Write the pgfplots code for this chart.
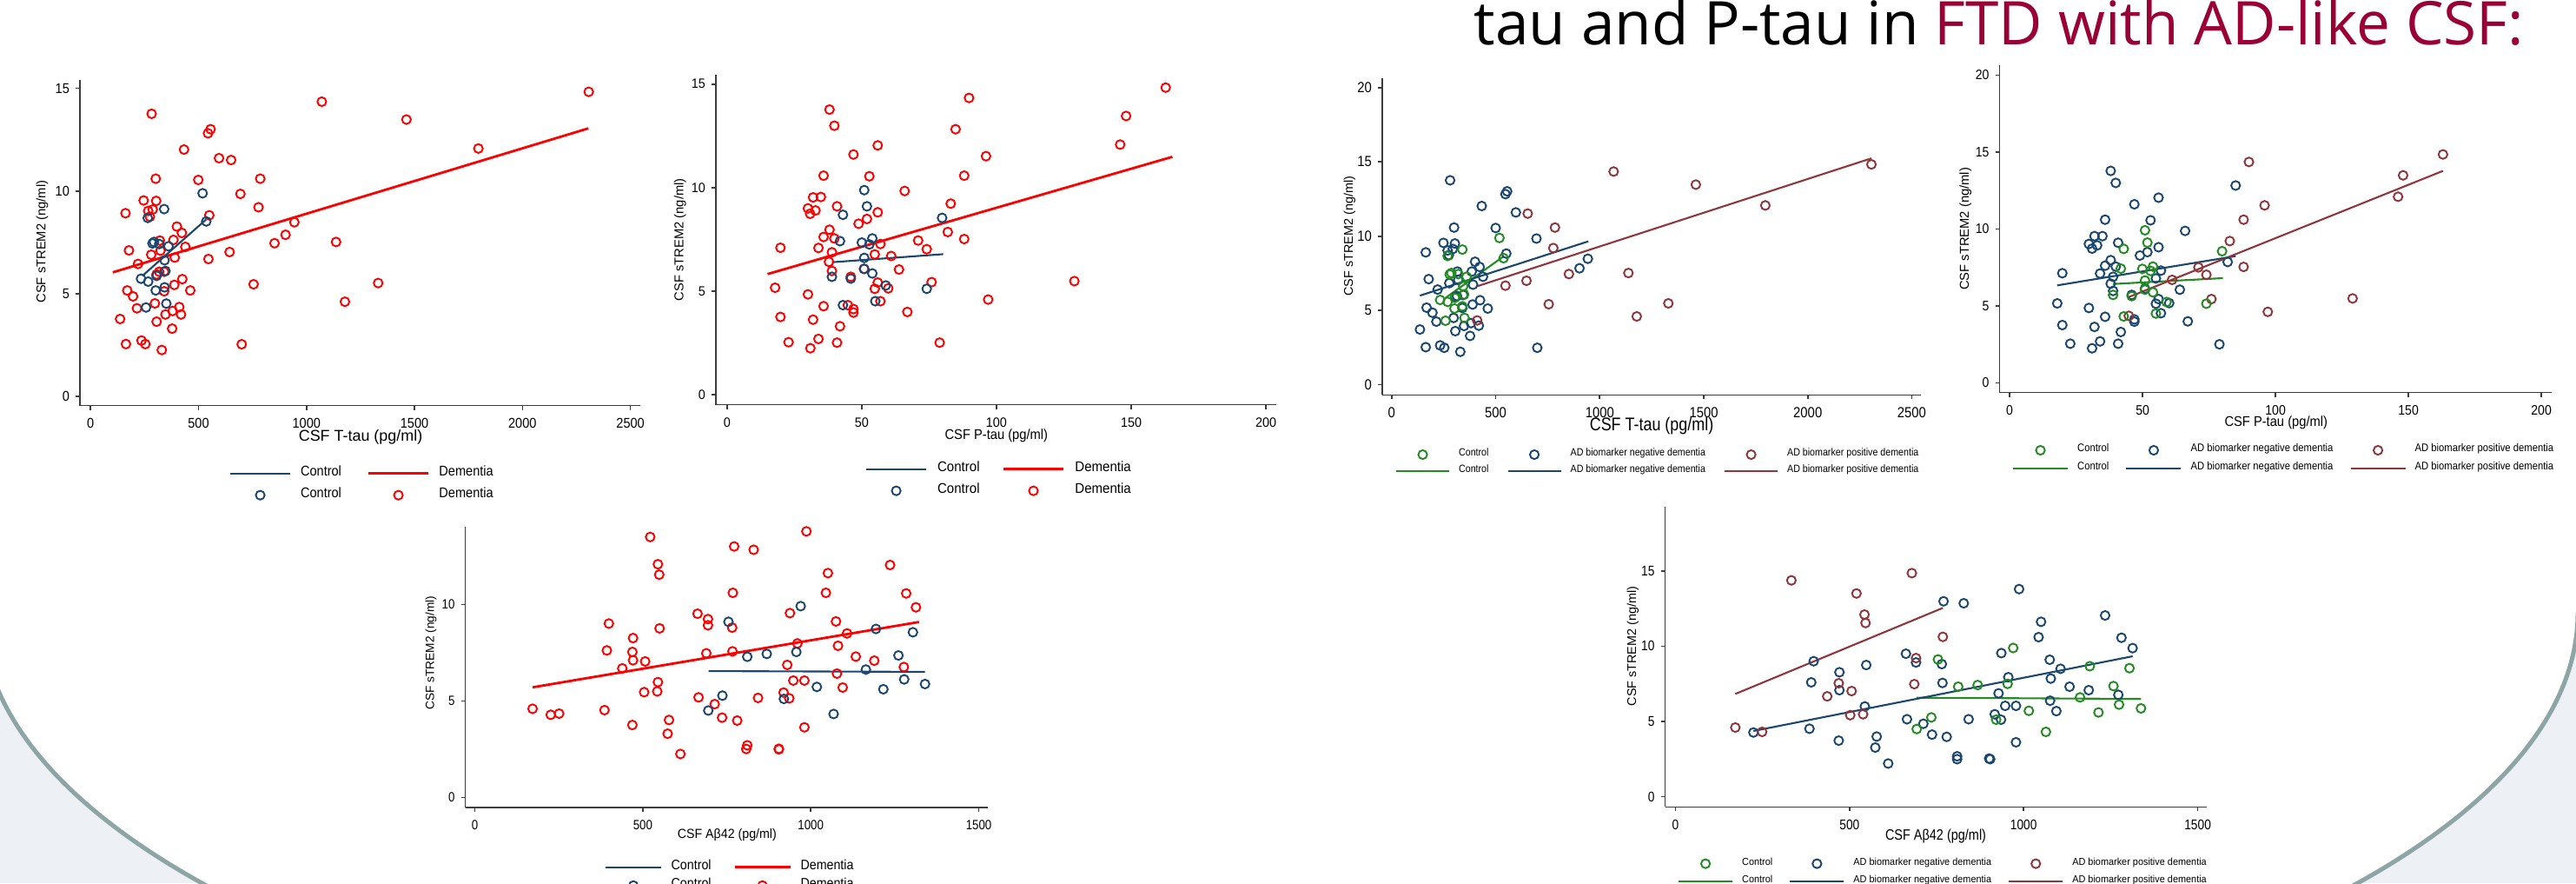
\documentclass[border=0pt]{standalone}
\usepackage{fontspec}
\setmainfont{Liberation Sans}
\newfontfamily\titlefont{Open Sans}
\usepackage{graphicx}
\usepackage{pgfplots}
\pgfplotsset{compat=1.18}

\definecolor{stnavy}{RGB}{26,71,111}
\definecolor{stmaroon}{RGB}{144,53,59}
\definecolor{stgreen}{RGB}{34,139,34}
\definecolor{tint}{RGB}{237,241,246}
\definecolor{arcc}{RGB}{142,165,165}
\definecolor{titlered}{RGB}{155,0,52}
\definecolor{axgray}{RGB}{60,60,60}

\newcommand{\fsz}[1]{\fontsize{#1}{#1}\selectfont}
% legend samples
\newcommand{\legline}[2]{\addlegendimage{legend image code/.code={\draw[line width=0.6pt,#1] (0cm,0cm) -- (#2,0cm);}}}
\newcommand{\legmark}[2]{\addlegendimage{legend image code/.code={\path[draw=none] (0cm,0cm) -- (#2,0cm); \draw[line width=0.55pt,#1] (#2/2,0cm) circle (1.45pt);}}}

\pgfplotsset{
  stata/.style={
    scale only axis, anchor=south west,
    axis lines*=left,
    axis line style={-, draw=axgray, line width=0.45pt},
    tick align=outside,
    major tick length=0.05cm,
    tick style={draw=axgray, line width=0.45pt},
    minor tick num=0,
    /pgf/number format/1000 sep={},
    /pgf/number format/assume math mode=true,
    xticklabel style={anchor=north, inner sep=0pt},
    yticklabel style={anchor=east, inner sep=0pt},
    xticklabel shift=0.09cm,
    yticklabel shift=0.065cm,
    legend cell align=left,
    legend style={draw=none, fill=none, inner sep=0pt, outer sep=0pt,
      nodes={inner sep=0pt, outer sep=0pt}, anchor=north west},
    xlabel style={anchor=center, inner sep=0pt},
    ylabel style={anchor=center, inner sep=0pt},
  },
  dot/.style={only marks, mark=o, mark size=1.45pt, line width=0.55pt, forget plot},
  fit/.style={no markers, line width=0.6pt, forget plot},
}

\begin{document}
\begin{tikzpicture}
\useasboundingbox (0,0) rectangle (29.65,10.16);
\clip (0,0) rectangle (29.65,10.16);
\fill[white] (0,0) rectangle (29.65,10.16);

% slide background
\fill[tint] (0,0) rectangle (29.65,3.11);
\fill[white] (14.73,3.11) ellipse [x radius=14.94, y radius=5.58];
\begin{scope}
\clip (0,0) rectangle (29.65,3.11);
\draw[arcc, line width=0.05cm] (14.73,3.11) ellipse [x radius=14.94, y radius=5.58];
\end{scope}

\node[anchor=base west, inner sep=0pt, font=\titlefont\fontsize{19.7}{23}\selectfont]
  at (16.96,9.645) {tau and P-tau in \textcolor{titlered}{FTD with AD-like CSF:}};

% ---------- panel 1: T-tau ----------
\begin{axis}[stata, at={(0.92cm,5.493cm)}, width=6.448cm, height=3.75cm,
  xmin=-49, xmax=2545, ymin=-0.45, ymax=15.42,
  xtick={0,500,...,2500}, ytick={0,5,10,15},
  tick label style={font=\fsz{4.6}, xscale=0.9},
  xlabel={CSF T-tau (pg/ml)},
  xlabel style={at={(axis description cs:0.501,-0.0968)}, font=\fsz{5.1}},
  ylabel={CSF sTREM2 (ng/ml)},
  ylabel style={at={(axis description cs:-0.0675,0.503)}, font=\fsz{4.2}},
  legend columns=2,
  legend style={at={(axis description cs:0.2667,-0.1851)}, font=\fsz{4.6}, row sep=0.081cm,
    /tikz/every odd column/.append style={column sep=0.11cm},
    /tikz/every even column/.append style={column sep=0.297cm}},
]
\addplot[dot, red] coordinates {(2307,14.83) (1071,14.35) (283,13.76) (1463,13.48) (556,13.01) (544,12.81) (433,12.02) (1796,12.07) (595,11.60) (651,11.51) (302,10.60) (499,10.54) (786,10.60) (694,9.86) (246,9.54) (304,9.52) (778,9.21) (162,8.92) (267,9.03) (288,9.10) (275,8.75) (550,8.82) (944,8.48) (400,8.27) (423,7.96) (903,7.87) (1137,7.52) (852,7.46) (321,7.59) (384,7.62) (178,7.11) (324,7.10) (439,7.28) (281,6.90) (644,7.03) (390,6.76) (546,6.69) (220,6.45) (318,6.07) (341,6.07) (306,5.94) (425,5.71) (388,5.43) (755,5.46) (1332,5.52) (170,5.16) (341,5.12) (462,5.16) (197,4.87) (1178,4.61) (298,4.53) (215,4.29) (411,4.35) (347,3.99) (419,3.99) (380,4.16) (137,3.77) (306,3.64) (378,3.30) (236,2.72) (164,2.55) (254,2.55) (700,2.54) (330,2.26)};
\addplot[dot, stnavy] coordinates {(519,9.89) (341,9.12) (265,8.69) (536,8.52) (287,7.45) (294,7.52) (318,7.42) (361,7.31) (343,6.63) (234,5.73) (267,5.59) (347,6.11) (306,5.87) (343,5.31) (302,5.16) (351,4.52) (257,4.33)};
\addplot[fit, red, line width=0.8pt] coordinates {(103,6.04) (2305,13.05)};
\addplot[fit, stnavy] coordinates {(240,5.87) (536,8.62)};
\legline{stnavy}{0.69cm} \addlegendentry{\scalebox{0.9}[1]{Control}}
\legline{red,line width=0.8pt}{0.69cm} \addlegendentry{\scalebox{0.9}[1]{Dementia}}
\legmark{stnavy}{0.69cm} \addlegendentry{\scalebox{0.9}[1]{Control}}
\legmark{red}{0.69cm} \addlegendentry{\scalebox{0.9}[1]{Dementia}}
\end{axis}

% ---------- panel 2: P-tau ----------
\begin{axis}[stata, at={(8.239cm,5.503cm)}, width=6.446cm, height=3.797cm,
  xmin=-4.2, xmax=203.7, ymin=-0.48, ymax=15.45,
  xtick={0,50,...,200}, ytick={0,5,10,15},
  tick label style={font=\fsz{4.4}, xscale=0.93},
  xlabel={\scalebox{0.91}[1]{CSF P-tau (pg/ml)}},
  xlabel style={at={(axis description cs:0.501,-0.093)}, font=\fsz{4.6}},
  ylabel={CSF sTREM2 (ng/ml)},
  ylabel style={at={(axis description cs:-0.0639,0.5)}, font=\fsz{4.2}},
  legend columns=2,
  legend style={at={(axis description cs:0.267,-0.1722)}, font=\fsz{4.6}, row sep=0.081cm,
    /tikz/every odd column/.append style={column sep=0.12cm},
    /tikz/every even column/.append style={column sep=0.26cm}},
]
\addplot[dot, red] coordinates {(162.8,14.83) (89.8,14.33) (38.0,13.77) (148.1,13.46) (39.8,12.99) (84.8,12.82) (55.9,12.04) (145.9,12.08) (46.9,11.60) (96.1,11.52) (35.8,10.58) (52.8,10.55) (88.0,10.58) (65.9,9.84) (31.9,9.53) (34.8,9.55) (83.0,9.23) (30.0,9.00) (32.8,8.90) (30.8,8.74) (40.8,9.10) (55.9,8.81) (48.8,8.26) (51.9,8.49) (38.0,7.97) (81.9,7.86) (35.8,7.62) (39.8,7.55) (88.0,7.52) (70.9,7.45) (56.9,7.28) (19.8,7.10) (33.9,7.09) (74.1,7.03) (38.9,6.88) (54.8,6.78) (60.9,6.70) (37.8,6.42) (38.9,5.98) (50.8,6.08) (63.8,6.05) (45.9,5.70) (17.8,5.17) (75.9,5.44) (55.9,5.42) (54.8,5.12) (59.8,5.14) (128.9,5.49) (30.0,4.85) (96.9,4.60) (56.9,4.52) (35.8,4.28) (44.8,4.33) (46.9,4.14) (46.9,3.97) (66.9,4.00) (19.8,3.76) (31.9,3.63) (41.9,3.31) (33.9,2.70) (22.8,2.54) (40.8,2.52) (78.9,2.52) (30.9,2.25)};
\addplot[dot, stnavy] coordinates {(50.9,9.88) (51.9,9.10) (43.0,8.69) (79.8,8.54) (41.9,7.42) (50.0,7.35) (53.9,7.55) (52.8,7.26) (50.9,6.61) (50.9,6.08) (38.9,5.70) (45.9,5.61) (53.9,5.86) (58.9,5.28) (74.1,5.12) (55.0,4.52) (43.0,4.33)};
\addplot[fit, red, line width=0.8pt] coordinates {(15,5.83) (165.3,11.49)};
\addplot[fit, stnavy] coordinates {(38.9,6.40) (80.2,6.79)};
\legline{stnavy}{0.69cm} \addlegendentry{\scalebox{0.93}[1]{Control}}
\legline{red,line width=0.8pt}{0.69cm} \addlegendentry{\scalebox{0.93}[1]{Dementia}}
\legmark{stnavy}{0.69cm} \addlegendentry{\scalebox{0.93}[1]{Control}}
\legmark{red}{0.69cm} \addlegendentry{\scalebox{0.93}[1]{Dementia}}
\end{axis}

% ---------- panel 3: Abeta42 ----------
\begin{axis}[stata, at={(5.355cm,0.87cm)}, width=6.015cm, height=3.23cm,
  xmin=-28.4, xmax=1527, ymin=-0.51, ymax=14.02,
  xtick={0,500,1000,1500}, ytick={0,5,10},
  tick label style={font=\fsz{4.4}, xscale=0.86},
  xlabel={\scalebox{0.94}[1]{CSF Aβ42 (pg/ml)}},
  xlabel style={at={(axis description cs:0.501,-0.099)}, font=\fsz{4.3}},
  ylabel={CSF sTREM2 (ng/ml)},
  ylabel style={at={(axis description cs:-0.0657,0.55)}, font=\fsz{3.9}},
  legend columns=2,
  legend style={at={(axis description cs:0.2668,-0.1864)}, font=\fsz{4.5}, row sep=0.045cm,
    /tikz/every odd column/.append style={column sep=0.106cm},
    /tikz/every even column/.append style={column sep=0.256cm}},
]
\addplot[dot, red] coordinates {(522,13.49) (987,13.78) (772,13.00) (830,12.83) (545,12.08) (1236,12.04) (549,11.54) (1051,11.62) (768,10.60) (1045,10.60) (1284,10.57) (1313,9.85) (663,9.52) (938,9.55) (694,9.24) (399,9.01) (694,8.92) (1075,9.12) (766,8.80) (550,8.76) (1108,8.50) (471,8.26) (960,7.98) (1081,7.86) (393,7.62) (469,7.54) (767,7.57) (689,7.47) (1134,7.30) (471,7.11) (507,7.05) (1189,7.09) (930,6.87) (439,6.69) (1277,6.76) (1078,6.42) (545,5.98) (948,6.06) (981,6.06) (1095,5.70) (504,5.46) (543,5.50) (919,5.44) (666,5.19) (843,5.16) (936,5.14) (714,4.84) (172,4.60) (386,4.53) (226,4.29) (251,4.35) (736,4.14) (578,4.02) (781,3.99) (469,3.76) (981,3.64) (574,3.31) (811,2.71) (808,2.52) (905,2.53) (905,2.50) (612,2.26)};
\addplot[dot, stnavy] coordinates {(970,9.91) (755,9.10) (1194,8.73) (1304,8.56) (869,7.44) (957,7.54) (811,7.29) (1261,7.36) (1164,6.63) (1278,6.12) (1018,5.73) (1340,5.88) (1216,5.61) (737,5.28) (920,5.11) (695,4.51) (1068,4.33)};
\addplot[fit, red, line width=0.8pt] coordinates {(172,5.71) (1322,9.09)};
\addplot[fit, stnavy] coordinates {(696,6.55) (1340,6.51)};
\legline{stnavy}{0.64cm} \addlegendentry{\scalebox{0.9}[1]{Control}}
\legline{red,line width=0.8pt}{0.64cm} \addlegendentry{\scalebox{0.9}[1]{Dementia}}
\legmark{stnavy}{0.64cm} \addlegendentry{\scalebox{0.9}[1]{Control}}
\legmark{red}{0.64cm} \addlegendentry{\scalebox{0.9}[1]{Dementia}}
\end{axis}

% ---------- panel 4: T-tau by AD biomarker status ----------
\begin{axis}[stata, at={(15.91cm,5.617cm)}, width=6.20cm, height=3.643cm,
  xmin=-45, xmax=2544, ymin=-0.68, ymax=20.63,
  xtick={0,500,...,2500}, ytick={0,5,10,15,20},
  tick label style={font=\fsz{4.8}, xscale=0.88},
  xlabel={\scalebox{0.85}[1]{CSF T-tau (pg/ml)}},
  xlabel style={at={(axis description cs:0.5,-0.098)}, font=\fsz{6.0}},
  ylabel={CSF sTREM2 (ng/ml)},
  ylabel style={at={(axis description cs:-0.0608,0.501)}, font=\fsz{4.1}},
  legend columns=3,
  legend style={at={(axis description cs:0.0242,-0.1694)}, font=\fsz{3.45}, row sep=0.05cm,
    /tikz/every odd column/.append style={column sep=0.10cm},
    /tikz/every even column/.append style={column sep=0.21cm}},
]
\addplot[dot, stnavy] coordinates {(281,13.76) (555,13.02) (547,12.83) (433,12.03) (597,11.60) (300,10.58) (500,10.55) (696,9.84) (249,9.55) (304,9.51) (164,8.91) (269,9.04) (294,9.14) (275,8.73) (551,8.83) (943,8.48) (401,8.28) (423,7.93) (903,7.84) (316,7.62) (385,7.62) (178,7.11) (320,7.06) (439,7.27) (277,6.84) (391,6.74) (221,6.41) (314,5.97) (344,6.04) (306,5.91) (425,5.69) (389,5.40) (168,5.19) (340,5.17) (462,5.13) (196,4.85) (298,4.50) (215,4.25) (348,3.96) (419,3.98) (381,4.15) (136,3.72) (306,3.61) (377,3.29) (233,2.65) (164,2.53) (253,2.49) (700,2.49) (330,2.22)};
\addplot[dot, stmaroon] coordinates {(2306,14.83) (1067,14.35) (1462,13.47) (1796,12.07) (654,11.52) (785,10.58) (777,9.20) (852,7.45) (1138,7.52) (648,7.00) (547,6.67) (755,5.42) (1330,5.48) (1178,4.60) (411,4.33)};
\addplot[dot, stgreen] coordinates {(518,9.88) (340,9.10) (269,8.67) (538,8.52) (287,7.52) (279,7.43) (320,7.45) (360,7.27) (344,6.63) (233,5.71) (269,5.58) (348,6.08) (304,5.85) (340,5.28) (302,5.13) (350,4.50) (259,4.31)};
\addplot[fit, stgreen] coordinates {(259,5.85) (538,8.64)};
\addplot[fit, stnavy] coordinates {(136,6.00) (945,9.65)};
\addplot[fit, stmaroon] coordinates {(411,6.63) (2306,15.24)};
\legmark{stgreen}{0.61cm} \addlegendentry{\scalebox{0.88}[1]{Control}}
\legmark{stnavy}{0.61cm} \addlegendentry{\scalebox{0.88}[1]{AD biomarker negative dementia}}
\legmark{stmaroon}{0.61cm} \addlegendentry{\scalebox{0.88}[1]{AD biomarker positive dementia}}
\legline{stgreen}{0.61cm} \addlegendentry{\scalebox{0.88}[1]{Control}}
\legline{stnavy}{0.61cm} \addlegendentry{\scalebox{0.88}[1]{AD biomarker negative dementia}}
\legline{stmaroon}{0.61cm} \addlegendentry{\scalebox{0.88}[1]{AD biomarker positive dementia}}
\end{axis}

% ---------- panel 5: P-tau by AD biomarker status ----------
\begin{axis}[stata, at={(23.015cm,5.643cm)}, width=6.352cm, height=3.767cm,
  xmin=-3.8, xmax=203.8, ymin=-0.64, ymax=20.64,
  xtick={0,50,...,200}, ytick={0,5,10,15,20},
  tick label style={font=\fsz{4.5}, xscale=0.89},
  xlabel={\scalebox{0.91}[1]{CSF P-tau (pg/ml)}},
  xlabel style={at={(axis description cs:0.501,-0.093)}, font=\fsz{4.6}},
  ylabel={CSF sTREM2 (ng/ml)},
  ylabel style={at={(axis description cs:-0.0616,0.5)}, font=\fsz{4.2}},
  legend columns=3,
  legend style={at={(axis description cs:0.0228,-0.1569)}, font=\fsz{3.6}, row sep=0.065cm,
    /tikz/every odd column/.append style={column sep=0.10cm},
    /tikz/every even column/.append style={column sep=0.19cm}},
]
\addplot[dot, stnavy] coordinates {(38.0,13.77) (39.9,12.99) (85.0,12.82) (56.0,12.03) (46.9,11.60) (35.9,10.60) (53.0,10.56) (66.0,9.87) (31.9,9.53) (34.9,9.53) (29.8,9.02) (32.9,8.93) (31.0,8.72) (40.8,9.10) (56.0,8.81) (49.0,8.27) (51.8,8.49) (38.0,7.97) (82.0,7.85) (35.9,7.61) (39.9,7.55) (56.9,7.29) (19.8,7.12) (34.0,7.10) (38.9,6.89) (55.0,6.78) (38.0,6.44) (38.9,5.97) (50.9,6.12) (64.0,6.05) (45.9,5.71) (17.9,5.16) (56.0,5.44) (55.0,5.14) (60.0,5.18) (29.8,4.86) (56.9,4.52) (35.9,4.29) (46.9,4.12) (46.9,3.97) (67.0,3.99) (19.8,3.75) (31.9,3.63) (41.8,3.30) (34.0,2.69) (22.8,2.54) (40.8,2.54) (78.9,2.50) (31.0,2.24)};
\addplot[dot, stmaroon] coordinates {(163.0,14.84) (90.0,14.35) (148.0,13.48) (146.1,12.09) (95.9,11.53) (88.0,10.60) (82.8,9.21) (71.0,7.50) (88.0,7.53) (74.0,7.02) (61.1,6.69) (75.9,5.44) (129.0,5.48) (97.1,4.61) (44.8,4.35)};
\addplot[dot, stgreen] coordinates {(50.9,9.91) (51.8,9.11) (42.9,8.70) (79.9,8.55) (41.8,7.42) (49.9,7.40) (53.9,7.55) (53.0,7.27) (50.9,6.65) (50.9,6.05) (38.9,5.71) (45.9,5.63) (53.9,5.88) (59.0,5.25) (74.0,5.14) (55.0,4.50) (42.9,4.31)};
\addplot[fit, stgreen] coordinates {(38.9,6.42) (80.2,6.80)};
\addplot[fit, stnavy] coordinates {(17.9,6.33) (85.0,8.23)};
\addplot[fit, stmaroon] coordinates {(44.8,5.57) (163.0,13.77)};
\legmark{stgreen}{0.63cm} \addlegendentry{\scalebox{0.89}[1]{Control}}
\legmark{stnavy}{0.63cm} \addlegendentry{\scalebox{0.89}[1]{AD biomarker negative dementia}}
\legmark{stmaroon}{0.63cm} \addlegendentry{\scalebox{0.89}[1]{AD biomarker positive dementia}}
\legline{stgreen}{0.63cm} \addlegendentry{\scalebox{0.89}[1]{Control}}
\legline{stnavy}{0.63cm} \addlegendentry{\scalebox{0.89}[1]{AD biomarker negative dementia}}
\legline{stmaroon}{0.63cm} \addlegendentry{\scalebox{0.89}[1]{AD biomarker positive dementia}}
\end{axis}

% ---------- panel 6: Abeta42 by AD biomarker status ----------
\begin{axis}[stata, at={(19.165cm,0.877cm)}, width=6.235cm, height=3.45cm,
  xmin=-29.7, xmax=1526, ymin=-0.67, ymax=19.24,
  xtick={0,500,1000,1500}, ytick={0,5,10,15},
  tick label style={font=\fsz{4.6}, xscale=0.85},
  xlabel={\scalebox{0.84}[1]{CSF Aβ42 (pg/ml)}},
  xlabel style={at={(axis description cs:0.4996,-0.097)}, font=\fsz{4.9}},
  ylabel={CSF sTREM2 (ng/ml)},
  ylabel style={at={(axis description cs:-0.0597,0.536)}, font=\fsz{4.1}},
  legend columns=3,
  legend style={at={(axis description cs:0.0233,-0.1696)}, font=\fsz{3.3}, row sep=0.065cm,
    /tikz/every odd column/.append style={column sep=0.10cm},
    /tikz/every even column/.append style={column sep=0.19cm}},
]
\addplot[dot, stnavy] coordinates {(987,13.79) (770,12.98) (828,12.85) (1234,12.04) (1050,11.62) (1043,10.60) (1281,10.56) (1313,9.87) (662,9.50) (936,9.54) (397,9.00) (691,8.92) (765,8.81) (548,8.75) (1075,9.10) (1106,8.50) (471,8.27) (956,7.94) (1078,7.85) (390,7.60) (767,7.56) (1132,7.31) (471,7.08) (1187,7.08) (928,6.87) (1272,6.77) (1076,6.38) (544,6.00) (947,6.04) (978,6.04) (1094,5.69) (917,5.48) (665,5.15) (935,5.12) (842,5.15) (712,4.85) (385,4.52) (224,4.27) (737,4.13) (578,4.00) (779,3.98) (469,3.73) (978,3.62) (574,3.27) (809,2.69) (809,2.50) (901,2.54) (904,2.50) (611,2.21)};
\addplot[dot, stmaroon] coordinates {(679,14.85) (333,14.37) (520,13.50) (543,12.10) (546,11.54) (768,10.62) (691,9.21) (686,7.48) (469,7.54) (506,7.02) (436,6.67) (502,5.42) (539,5.48) (172,4.60) (249,4.31)};
\addplot[dot, stgreen] coordinates {(970,9.88) (754,9.12) (1190,8.67) (1304,8.54) (812,7.31) (868,7.42) (954,7.50) (1258,7.35) (1162,6.60) (1274,6.12) (1015,5.71) (1337,5.87) (1215,5.60) (735,5.27) (921,5.12) (693,4.50) (1064,4.31)};
\addplot[fit, stgreen] coordinates {(693,6.58) (1337,6.50)};
\addplot[fit, stnavy] coordinates {(224,4.37) (1313,9.33)};
\addplot[fit, stmaroon] coordinates {(172,6.83) (768,12.54)};
\legmark{stgreen}{0.62cm} \addlegendentry{\scalebox{0.94}[1]{Control}}
\legmark{stnavy}{0.62cm} \addlegendentry{\scalebox{0.94}[1]{AD biomarker negative dementia}}
\legmark{stmaroon}{0.62cm} \addlegendentry{\scalebox{0.94}[1]{AD biomarker positive dementia}}
\legline{stgreen}{0.62cm} \addlegendentry{\scalebox{0.94}[1]{Control}}
\legline{stnavy}{0.62cm} \addlegendentry{\scalebox{0.94}[1]{AD biomarker negative dementia}}
\legline{stmaroon}{0.62cm} \addlegendentry{\scalebox{0.94}[1]{AD biomarker positive dementia}}
\end{axis}
\end{tikzpicture}
\end{document}
